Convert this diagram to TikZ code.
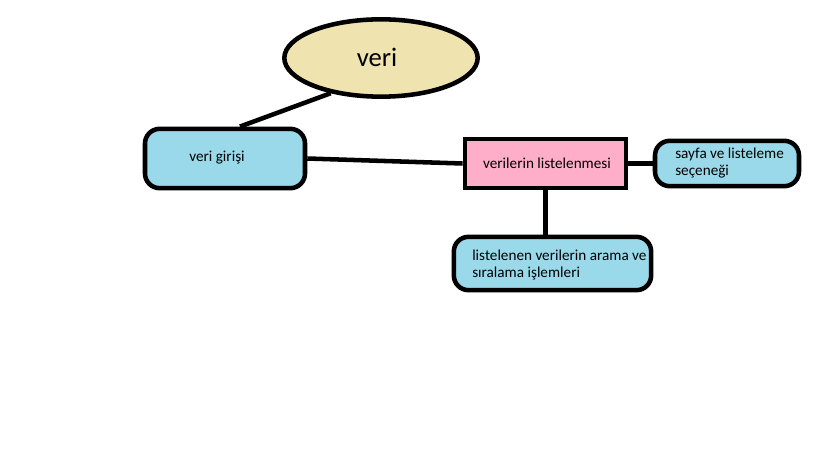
\documentclass[tikz,border=0pt]{standalone}
\usepackage{fontspec}
\setmainfont{Carlito}
\usetikzlibrary{shapes.geometric}
\definecolor{khaki}{RGB}{239,228,176}
\definecolor{lblue}{RGB}{153,217,234}
\definecolor{lpink}{RGB}{255,174,201}
\tikzset{
  px/.style={x=0.75pt,y=-0.75pt},
  thick3/.style={line width=3.4pt},
  oval/.style={ellipse,draw,thick3,fill=khaki,inner sep=0pt},
  bluebox/.style={rectangle,rounded corners=11pt,draw,thick3,fill=lblue,inner sep=0pt},
  pinkbox/.style={rectangle,draw,thick3,fill=lpink,inner sep=0pt},
  txt/.style={font=\fontsize{11.4pt}{12.9pt}\selectfont,inner sep=0pt,align=left},
  conn/.style={thick3}
}
\begin{document}
\begin{tikzpicture}[px]
\useasboundingbox (0,0) rectangle (819,460);
\node[oval,minimum width=145pt,minimum height=58pt] (veri) at (381,58) {};
\node[font=\fontsize{20pt}{24pt}\selectfont] (veritxt) at (377,57) {veri};
\node[bluebox,minimum width=120pt,minimum height=44.5pt] (giris) at (225,158.5) {};
\node[txt] (giristxt) at (217,158) {veri girişi};
\node[pinkbox,minimum width=121pt,minimum height=37pt] (liste) at (545.5,163.5) {};
\node[txt] (listetxt) at (547,163) {verilerin listelenmesi};
\node[bluebox,minimum width=108pt,minimum height=34pt] (sayfa) at (727,163.5) {};
\node[txt,anchor=west] (sayfatxt) at (675,163) {sayfa ve listeleme\\seçeneği};
\node[bluebox,minimum width=148pt,minimum height=40pt] (arama) at (552.5,263.5) {};
\node[txt,anchor=west] (aramatxt) at (472,265) {listelenen verilerin arama ve\\sıralama işlemleri};
\draw[conn] (veri.215) -- ([xshift=11.25pt]giris.north);
\draw[conn] (giris.east) -- (liste.west);
\draw[conn] (liste.east) -- (sayfa.west);
\draw[conn] (liste.south) -- (arama.north -| liste.south);
\end{tikzpicture}
\end{document}
